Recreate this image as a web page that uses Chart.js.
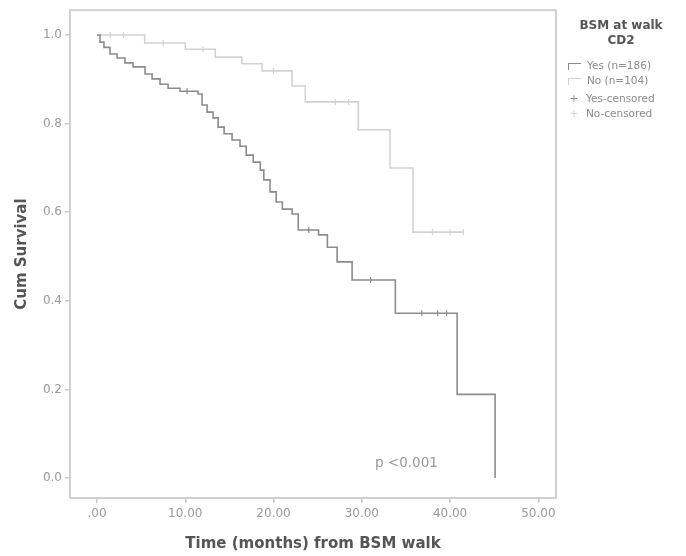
<!DOCTYPE html>
<html><head><meta charset="utf-8">
<script src="https://cdn.jsdelivr.net/npm/chart.js@4.4.1/dist/chart.umd.min.js"></script>
<style>
html,body{margin:0;padding:0;background:#fff;}
#wrap{position:relative;width:686px;height:556px;overflow:hidden;}
canvas{position:absolute;left:0;top:0;}
.t{position:absolute;font-family:"DejaVu Sans",sans-serif;white-space:nowrap;color:#8a8a8a;font-size:10.5px;line-height:12px;}
.sym{display:inline-block;width:12px;height:6px;border-left:1px solid;border-top:1px solid;margin-right:6px;vertical-align:middle;}
.cen{display:inline-block;width:12px;text-align:center;margin-right:6px;}
</style></head><body>
<div id="wrap">
<canvas id="c" width="686" height="556"></canvas>
<div class="t" style="left:566px;top:18px;width:110px;text-align:center;font-weight:bold;font-size:12px;color:#555;line-height:15px;">BSM at walk<br>CD2</div>
<div class="t" id="lg0" style="left:568px;top:59px;"></div>
<div class="t" id="lg1" style="left:568px;top:74px;"></div>
<div class="t" id="lg2" style="left:568px;top:92px;"></div>
<div class="t" id="lg3" style="left:568px;top:107px;"></div>
<div class="t" style="left:375px;top:454px;font-size:13.5px;line-height:16px;color:#999;">p &lt;0.001</div>
</div>
<script>
// ---- data ----
const legendLabels = ["Yes (n=186)", "No (n=104)", "Yes-censored", "No-censored"];
const xTickValues = [0, 10, 20, 30, 40, 50];
const xTickLabels = [".00", "10.00", "20.00", "30.00", "40.00", "50.00"];
const yTickValues = [0, 0.2, 0.4, 0.6, 0.8, 1.0];
const yTickLabels = ["0.0", "0.2", "0.4", "0.6", "0.8", "1.0"];

// dark group (lower curve): event times (months) and survival after each step
const timeYes = [0, 0.34, 0.79, 1.47, 2.27, 3.17, 4.08, 5.44, 6.24, 7.14, 8.05, 9.41, 11.45, 11.9, 12.47, 13.15, 13.72, 14.4, 15.3, 16.2, 16.9, 17.7, 18.5, 18.9, 19.6, 20.3, 21.0, 22.1, 22.8, 25.1, 26.1, 27.2, 28.9, 33.8, 40.8, 45.1];
const survYes = [1.0, 0.984, 0.972, 0.957, 0.948, 0.937, 0.928, 0.912, 0.901, 0.889, 0.880, 0.873, 0.867, 0.842, 0.826, 0.813, 0.792, 0.777, 0.763, 0.749, 0.729, 0.713, 0.695, 0.673, 0.646, 0.623, 0.607, 0.596, 0.560, 0.549, 0.521, 0.488, 0.447, 0.372, 0.189, 0.0];
const censTimeYes = [10.2, 24.0, 31.0, 36.8, 38.6, 39.6];
const censSurvYes = [0.873, 0.560, 0.447, 0.372, 0.372, 0.372];

// light group (upper curve)
const timeNo = [0, 5.4, 10.0, 13.4, 16.4, 18.7, 22.1, 23.6, 29.6, 33.2, 35.8, 41.5];
const survNo = [1.0, 0.982, 0.968, 0.950, 0.935, 0.919, 0.885, 0.849, 0.786, 0.700, 0.555, 0.555];
const censTimeNo = [1.5, 3.0, 7.5, 12.0, 20.0, 27.0, 28.5, 38.0, 40.0, 41.5];
const censSurvNo = [1.0, 1.0, 0.982, 0.968, 0.919, 0.849, 0.849, 0.555, 0.555, 0.555];

const darkCol = '#8c8c8c';
const lightCol = '#d2d2d2';

function pts(xs, ys){ return xs.map((x,i)=>({x:x, y:ys[i]})); }

// legend html
const lg = [
  ['sym', darkCol], ['sym', lightCol], ['cen', darkCol], ['cen', lightCol]
];
lg.forEach((d,i)=>{
  const el = document.getElementById('lg'+i);
  const s = document.createElement('span');
  s.className = d[0];
  s.style.color = d[1];
  s.style.borderColor = d[1];
  if (d[0]==='cen') s.textContent = '+';
  el.appendChild(s);
  el.appendChild(document.createTextNode(legendLabels[i]));
});

const framePlugin = {
  id: 'frame',
  beforeDatasetsDraw(chart){
    const a = chart.chartArea, ctx = chart.ctx;
    ctx.save();
    ctx.strokeStyle = '#d0d0d0';
    ctx.lineWidth = 2;
    ctx.strokeRect(a.left, a.top, a.right - a.left, a.bottom - a.top);
    ctx.restore();
  }
};

new Chart(document.getElementById('c'), {
  type: 'line',
  data: {
    datasets: [
      { label: legendLabels[0], data: pts(timeYes, survYes), borderColor: darkCol, borderWidth: 1.6, stepped: 'before', pointRadius: 0, fill: false },
      { label: legendLabels[1], data: pts(timeNo, survNo), borderColor: lightCol, borderWidth: 1.6, stepped: 'before', pointRadius: 0, fill: false },
      { type: 'scatter', label: legendLabels[2], data: pts(censTimeYes, censSurvYes), borderColor: darkCol, pointStyle: 'line', rotation: 90, pointRadius: 3, borderWidth: 1.2, showLine: false },
      { type: 'scatter', label: legendLabels[3], data: pts(censTimeNo, censSurvNo), borderColor: lightCol, pointStyle: 'line', rotation: 90, pointRadius: 3, borderWidth: 1.2, showLine: false }
    ]
  },
  options: {
    responsive: false,
    animation: false,
    devicePixelRatio: 1,
    layout: { padding: { top: 10, right: 130, left: 0, bottom: 0 } },
    plugins: { legend: { display: false }, tooltip: { enabled: false } },
    scales: {
      x: {
        type: 'linear', min: -3.06, max: 52.0,
        afterFit(s){ s.height = 58; },
        afterBuildTicks(s){ s.ticks = xTickValues.map(v=>({value:v})); },
        ticks: { callback: (v)=> xTickLabels[xTickValues.indexOf(v)], color: '#999', font: { family: 'DejaVu Sans', size: 12 }, padding: 4, maxRotation: 0, autoSkip: false },
        grid: { drawOnChartArea: false, tickLength: 5, color: '#c8c8c8', lineWidth: 1.5 },
        border: { display: true, color: '#d0d0d0', width: 2 },
        title: { display: true, text: 'Time (months) from BSM walk', color: '#555', font: { family: 'DejaVu Sans', size: 15, weight: 'bold' }, padding: { top: 0, bottom: 3 } }
      },
      y: {
        type: 'linear', min: -0.045, max: 1.056,
        afterFit(s){ s.width = 70; },
        afterBuildTicks(s){ s.ticks = yTickValues.map(v=>({value:v})); },
        ticks: { callback: (v)=> yTickLabels[yTickValues.indexOf(v)], color: '#999', font: { family: 'DejaVu Sans', size: 12 }, padding: 3, autoSkip: false },
        grid: { drawOnChartArea: false, tickLength: 5, color: '#c8c8c8', lineWidth: 1.5 },
        border: { display: true, color: '#d0d0d0', width: 2 },
        title: { display: true, text: 'Cum Survival', color: '#555', font: { family: 'DejaVu Sans', size: 15, weight: 'bold' }, padding: { top: 13, bottom: 0 } }
      }
    }
  },
  plugins: [framePlugin]
});
</script>
</body></html>
